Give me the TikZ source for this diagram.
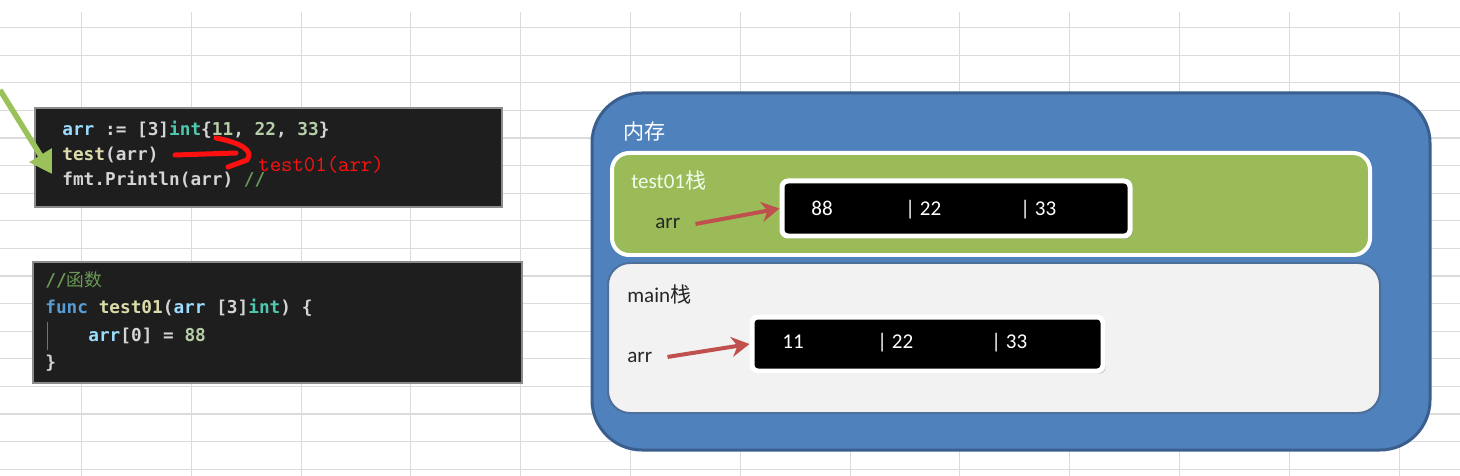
\documentclass[tikz,border=0pt]{standalone}
\usepackage{fontspec}
\setmainfont{Carlito}
\newfontfamily\cjk{Noto Sans CJK SC}
\newfontfamily\codefont{DejaVu Sans Mono}
\usepackage{xcolor}
\usetikzlibrary{arrows.meta, positioning, fit, calc, shadows}

\definecolor{codebg}{HTML}{1E1E1E}
\definecolor{cvar}{HTML}{9CDCFE}
\definecolor{ctype}{HTML}{4EC9B0}
\definecolor{cfunc}{HTML}{DCDCAA}
\definecolor{cpunct}{HTML}{D4D4D4}
\definecolor{cnum}{HTML}{B5CEA8}
\definecolor{ccomment}{HTML}{6A9955}
\definecolor{ckey}{HTML}{569CD6}
\definecolor{memblue}{HTML}{4F81BD}
\definecolor{memedge}{HTML}{3A5F8F}
\definecolor{stackgreen}{HTML}{9BBB59}
\definecolor{stackgray}{HTML}{F2F2F2}
\definecolor{arrowred}{HTML}{C0504D}
\definecolor{handred}{HTML}{FF1010}
\definecolor{pointgreen}{HTML}{9BC15A}

\tikzset{
  gridline/.style={draw=black!14, line width=0.6pt},
  codebox/.style={
    fill=codebg, draw=black!45, line width=0.6pt, inner sep=0pt
  },
  codeline/.style={
    anchor=base west, inner sep=0pt,
    font=\codefont\bfseries\fontsize{10.1}{12}\selectfont, text=cpunct
  },
  membox/.style={
    fill=memblue, draw=memedge, line width=0.06cm,
    rounded corners=1cm, inner sep=0pt
  },
  stackbox/.style={
    line width=0.08cm, rounded corners=0.34cm, inner sep=0pt
  },
  arraybox/.style={
    fill=black, draw=white, line width=0.1cm, rounded corners=0.12cm,
    inner sep=0pt,
    drop shadow={opacity=0.35, shadow xshift=1.5pt, shadow yshift=-1.5pt}
  },
  boxlabel/.style={
    anchor=base west, inner sep=0pt, font=\fontsize{12}{14}\selectfont
  },
  cellval/.style={
    anchor=base west, inner sep=0pt, text=white,
    font=\fontsize{12}{14}\selectfont
  },
  stackarrow/.style={
    -{Stealth[length=0.36cm, width=0.4cm]}, line width=0.08cm,
    color=arrowred
  },
  handstroke/.style={
    draw=handred, line width=0.1cm, line cap=round, line join=round
  },
}

\begin{document}
\begin{tikzpicture}[x=0.02cm, y=-0.02cm]
  \useasboundingbox (0,0) rectangle (1460,476);
  \fill[white] (0,0) rectangle (1460,476);

  % Sheet grid behind everything
  \foreach \gx in {0,...,12}
    \draw[gridline] ({81.5+109.8*\gx},12) -- ({81.5+109.8*\gx},476);
  \foreach \gy in {1,...,17}
    \draw[gridline] (0,{27.6*\gy}) -- (1460,{27.6*\gy});

  % Caller code
  \node[codebox, fit={(35,108) (502,207)}] (code1) {};
  \node[codeline] (c1l1) at (62,136) {\textcolor{cvar}{arr} := [3]\textcolor{ctype}{int}\{\textcolor{cnum}{11}, \textcolor{cnum}{22}, \textcolor{cnum}{33}\}};
  \node[codeline] (c1l2) at (62,161) {\textcolor{cfunc}{test}(arr)};
  \node[codeline] (c1l3) at (62,186) {fmt.Println(arr) \textcolor{ccomment}{//}};

  % Hand-written call note
  \draw[handstroke] (175,155) -- (236,153);
  \draw[handstroke] (216,138) .. controls (242,143) and (254,151) .. (247,160)
    -- (228,167);
  \node[anchor=base west, inner sep=0pt, text=handred,
    font=\ttfamily\fontsize{12.6}{14}\selectfont] (callnote) at (258,172) {test01(arr)};

  % Pointer to the print line
  \coordinate (greenstart) at (0,90);
  \draw[-{Triangle[length=0.44cm, width=0.5cm]}, line width=0.11cm,
    color=pointgreen] (greenstart) -- ([shift={(-10,-6)}]c1l3.west);

  % Function code
  \node[codebox, fit={(33,262) (522,383)}] (code2) {};
  \draw[black!55, line width=0.4pt] (47,322) -- (47,350);
  \node[codeline, text=ccomment] (c2l1) at (45,286) {//{\cjk\mdseries 函数}};
  \node[codeline] (c2l2) at (45,313) {\textcolor{ckey}{func} \textcolor{cfunc}{test01}(\textcolor{cvar}{arr} [3]\textcolor{ctype}{int}) \{};
  \node[codeline] (c2l3) at (88,341) {\textcolor{cvar}{arr}[0] = \textcolor{cnum}{88}};
  \node[codeline] (c2l4) at (45,368) {\}};

  % Memory
  \node[membox, fit={(592,93) (1430,450)}] (mem) {};
  \node[boxlabel, text=white] (memtitle) at (623,140) {\cjk 内存};

  % test01 stack frame
  \node[stackbox, fill=stackgreen, draw=white, fit={(612,153) (1370,255)}] (frametest) {};
  \node[boxlabel, text=green!8!white] (frametesttitle) at (631,189) {test01{\cjk 栈}};
  \node[boxlabel, text=black!85] (arrtest) at (655,229) {arr};
  \node[arraybox, fit={(782,181) (1130,236)}] (celltest) {};
  \node[cellval] (vtest1) at (811,215) {88};
  \node[cellval] (vtest2) at (905,215) {| 22};
  \node[cellval] (vtest3) at (1020,215) {| 33};
  \draw[stackarrow] ([xshift=0.3cm]arrtest.east) -- (celltest.west);

  % main stack frame
  \node[stackbox, fill=stackgray, draw=memedge!90, line width=0.04cm,
    rounded corners=0.44cm, fit={(608,263) (1380,413)}] (framemain) {};
  \node[boxlabel, text=black!85] (framemaintitle) at (627,302) {main{\cjk 栈}};
  \node[boxlabel, text=black!85] (arrmain) at (627,362) {arr};
  \node[arraybox, fit={(752,317) (1103,371)}] (cellmain) {};
  \node[cellval] (vmain1) at (782,348) {11};
  \node[cellval] (vmain2) at (877,348) {| 22};
  \node[cellval] (vmain3) at (991,348) {| 33};
  \draw[stackarrow] ([xshift=0.3cm]arrmain.east) -- (cellmain.west);
\end{tikzpicture}
\end{document}
